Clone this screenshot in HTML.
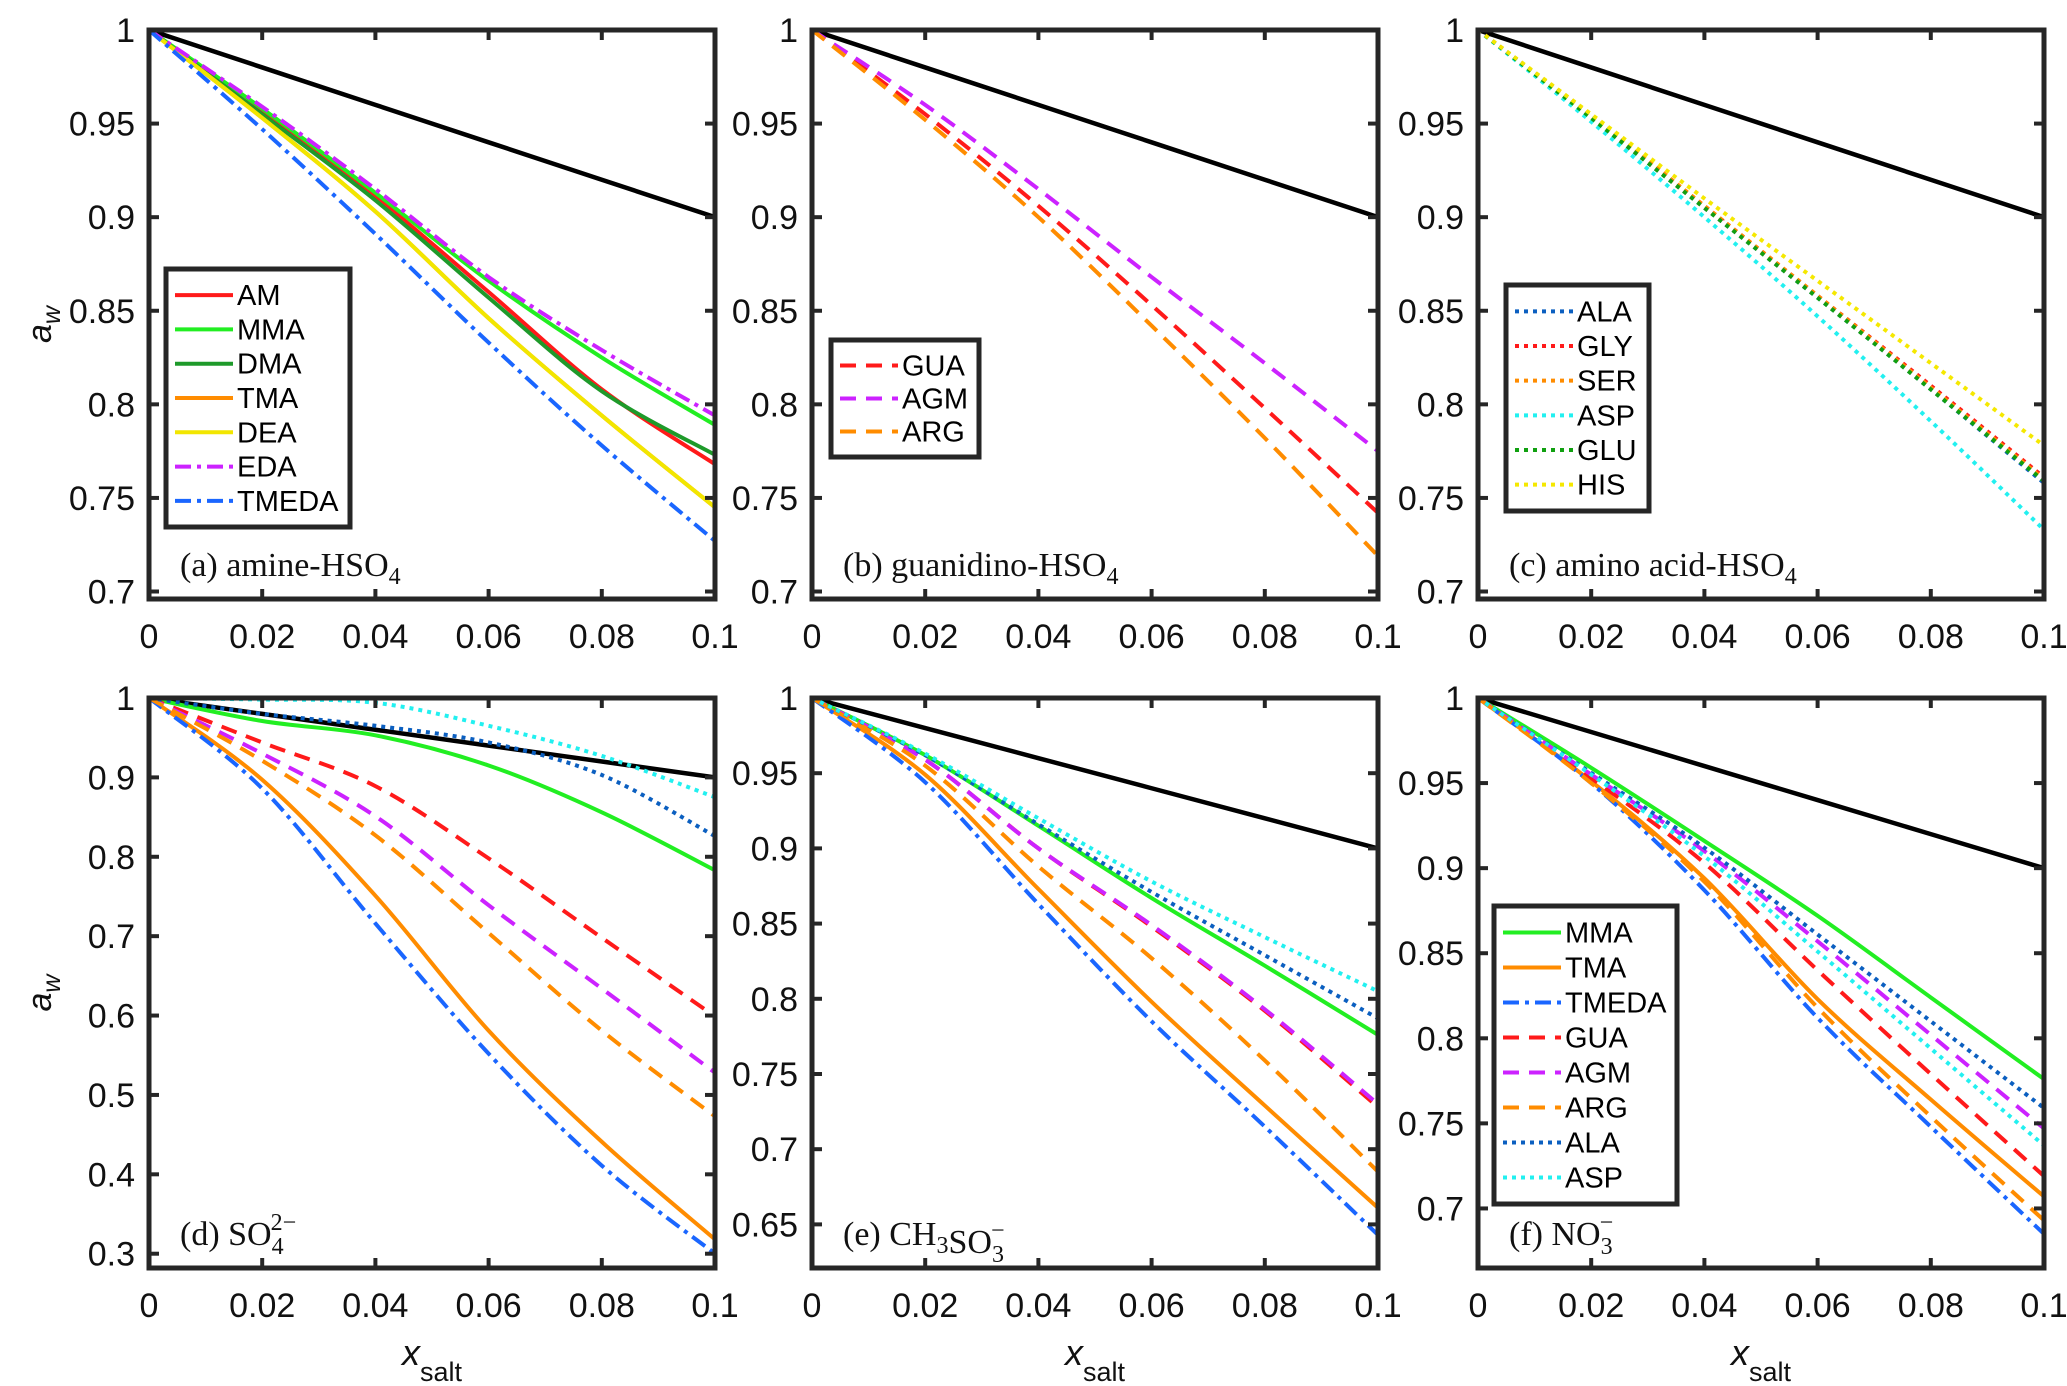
<!DOCTYPE html>
<html><head><meta charset="utf-8"><style>
html,body{margin:0;padding:0;background:#fff;}
svg{display:block;}
text{font-family:"Liberation Sans",sans-serif;}
.ser{font-family:"Liberation Serif",serif;}
</style></head><body>
<svg id="fig" width="2067" height="1386" viewBox="0 0 2067 1386" xmlns="http://www.w3.org/2000/svg"></svg>
<script>
// ---- data ----
const xs = [0, 0.02, 0.04, 0.06, 0.08, 0.1];
const xTicks = [0, 0.02, 0.04, 0.06, 0.08, 0.1];
const xTickLabels = ["0","0.02","0.04","0.06","0.08","0.1"];
const yTicksABC = [0.7,0.75,0.8,0.85,0.9,0.95,1];
const yTickLabelsABC = ["0.7","0.75","0.8","0.85","0.9","0.95","1"];
const yTicksD = [0.3,0.4,0.5,0.6,0.7,0.8,0.9,1];
const yTickLabelsD = ["0.3","0.4","0.5","0.6","0.7","0.8","0.9","1"];
const yTicksE = [0.65,0.7,0.75,0.8,0.85,0.9,0.95,1];
const yTickLabelsE = ["0.65","0.7","0.75","0.8","0.85","0.9","0.95","1"];
const yTicksF = [0.7,0.75,0.8,0.85,0.9,0.95,1];
const yTickLabelsF = ["0.7","0.75","0.8","0.85","0.9","0.95","1"];
const ideal = [1, 0.98, 0.96, 0.94, 0.92, 0.9];

// (a) amine-HSO4
const aAM    = [1, 0.956, 0.911, 0.860, 0.808, 0.768];
const aMMA   = [1, 0.958, 0.913, 0.866, 0.825, 0.789];
const aDMA   = [1, 0.955, 0.909, 0.857, 0.807, 0.773];
const aTMA   = [1, 0.953, 0.903, 0.846, 0.794, 0.745];
const aDEA   = [1, 0.953, 0.903, 0.846, 0.794, 0.745];
const aEDA   = [1, 0.959, 0.915, 0.868, 0.829, 0.794];
const aTMEDA = [1, 0.947, 0.891, 0.833, 0.778, 0.727];
// (b) guanidino-HSO4
const bGUA = [1, 0.955, 0.906, 0.853, 0.798, 0.742];
const bAGM = [1, 0.960, 0.915, 0.868, 0.822, 0.775];
const bARG = [1, 0.952, 0.900, 0.842, 0.782, 0.719];
// (c) amino acid-HSO4
const cALA = [1, 0.953, 0.905, 0.857, 0.808, 0.758];
const cGLY = [1, 0.954, 0.906, 0.858, 0.810, 0.761];
const cSER = [1, 0.954, 0.906, 0.858, 0.809, 0.760];
const cASP = [1, 0.951, 0.900, 0.847, 0.791, 0.733];
const cGLU = [1, 0.953, 0.905, 0.857, 0.808, 0.759];
const cHIS = [1, 0.955, 0.910, 0.866, 0.822, 0.778];
// (d) SO4 2-
const dMMA   = [1, 0.971, 0.953, 0.915, 0.856, 0.783];
const dTMA   = [1, 0.897, 0.751, 0.581, 0.441, 0.318];
const dTMEDA = [1, 0.886, 0.716, 0.552, 0.411, 0.300];
const dGUA   = [1, 0.944, 0.889, 0.798, 0.698, 0.599];
const dAGM   = [1, 0.930, 0.851, 0.739, 0.634, 0.528];
const dARG   = [1, 0.921, 0.827, 0.704, 0.581, 0.473];
const dALA   = [1, 0.980, 0.965, 0.944, 0.903, 0.826];
const dASP   = [1, 0.998, 0.994, 0.965, 0.927, 0.875];
// (e) CH3SO3-
const eMMA   = [1, 0.962, 0.915, 0.867, 0.822, 0.776];
const eTMA   = [1, 0.949, 0.873, 0.798, 0.729, 0.661];
const eTMEDA = [1, 0.944, 0.863, 0.785, 0.715, 0.643];
const eGUA   = [1, 0.959, 0.900, 0.848, 0.792, 0.728];
const eAGM   = [1, 0.959, 0.900, 0.849, 0.793, 0.730];
const eARG   = [1, 0.955, 0.888, 0.827, 0.759, 0.685];
const eALA   = [1, 0.962, 0.916, 0.871, 0.829, 0.787];
const eASP   = [1, 0.963, 0.920, 0.878, 0.841, 0.805];
// (f) NO3-
const fMMA   = [1, 0.959, 0.916, 0.872, 0.824, 0.776];
const fTMA   = [1, 0.951, 0.894, 0.823, 0.764, 0.707];
const fTMEDA = [1, 0.950, 0.887, 0.812, 0.748, 0.685];
const fGUA   = [1, 0.953, 0.903, 0.840, 0.779, 0.719];
const fAGM   = [1, 0.955, 0.910, 0.857, 0.802, 0.747];
const fARG   = [1, 0.950, 0.892, 0.818, 0.754, 0.693];
const fALA   = [1, 0.956, 0.912, 0.861, 0.810, 0.759];
const fASP   = [1, 0.955, 0.907, 0.851, 0.794, 0.737];

// ---- styles ----
const C = {AM:"#ff1a1a",MMA:"#22ee22",DMA:"#1e9a2a",TMA:"#ff8c00",DEA:"#f2e600",EDA:"#cc22ff",TMEDA:"#1a66ff",
  GUA:"#ff1a1a",AGM:"#cc22ff",ARG:"#ff8c00",ALA:"#0b5fc0",GLY:"#ff1a1a",SER:"#ff8c00",ASP:"#22f0f0",GLU:"#10a010",HIS:"#f5e800"};
const DASH = {solid:"", dash:"16,10", dot:"4,5", dashdot:"16,6,4,6"};
const NS = "http://www.w3.org/2000/svg";
const svg = document.getElementById("fig");
function mk(tag, attrs, parent){ const e=document.createElementNS(NS,tag); for(const k in attrs) e.setAttribute(k,attrs[k]); (parent||svg).appendChild(e); return e; }
function smoothPath(pts){
  let d="M"+pts[0][0]+","+pts[0][1];
  for(let i=0;i<pts.length-1;i++){
    const p0=pts[i-1]||pts[i], p1=pts[i], p2=pts[i+1], p3=pts[i+2]||p2;
    const c1x=p1[0]+(p2[0]-p0[0])/6, c1y=p1[1]+(p2[1]-p0[1])/6;
    const c2x=p2[0]-(p3[0]-p1[0])/6, c2y=p2[1]-(p3[1]-p1[1])/6;
    d+=" C"+c1x+","+c1y+" "+c2x+","+c2y+" "+p2[0]+","+p2[1];
  }
  return d;
}

const panels = [
 {id:"a", x0:149,x1:715,y0:30,y1:599, ymin:0.696,ymax:1, yt:yTicksABC, ytl:yTickLabelsABC, ylabel:true,xlabel:false,
  series:[["AM",aAM,"solid"],["MMA",aMMA,"solid"],["DMA",aDMA,"solid"],["TMA",aTMA,"solid"],["DEA",aDEA,"solid"],["EDA",aEDA,"dashdot"],["TMEDA",aTMEDA,"dashdot"]],
  legend:{x:166,y:269,w:184,h:258,items:["AM","MMA","DMA","TMA","DEA","EDA","TMEDA"],styles:["solid","solid","solid","solid","solid","dashdot","dashdot"]},
  label:[["(a) amine-HSO",""],["4","sub"]]},
 {id:"b", x0:812,x1:1378,y0:30,y1:599, ymin:0.696,ymax:1, yt:yTicksABC, ytl:yTickLabelsABC, ylabel:false,xlabel:false,
  series:[["GUA",bGUA,"dash"],["AGM",bAGM,"dash"],["ARG",bARG,"dash"]],
  legend:{x:831,y:340,w:148,h:117,items:["GUA","AGM","ARG"],styles:["dash","dash","dash"]},
  label:[["(b) guanidino-HSO",""],["4","sub"]]},
 {id:"c", x0:1478,x1:2044,y0:30,y1:599, ymin:0.696,ymax:1, yt:yTicksABC, ytl:yTickLabelsABC, ylabel:false,xlabel:false,
  series:[["ALA",cALA,"dot"],["GLY",cGLY,"dot"],["SER",cSER,"dot"],["ASP",cASP,"dot"],["GLU",cGLU,"dot"],["HIS",cHIS,"dot"]],
  legend:{x:1506,y:285,w:143,h:226,items:["ALA","GLY","SER","ASP","GLU","HIS"],styles:["dot","dot","dot","dot","dot","dot"]},
  label:[["(c) amino acid-HSO",""],["4","sub"]]},
 {id:"d", x0:149,x1:715,y0:698,y1:1268, ymin:0.282,ymax:1, yt:yTicksD, ytl:yTickLabelsD, ylabel:true,xlabel:true,
  series:[["MMA",dMMA,"solid"],["TMA",dTMA,"solid"],["TMEDA",dTMEDA,"dashdot"],["GUA",dGUA,"dash"],["AGM",dAGM,"dash"],["ARG",dARG,"dash"],["ALA",dALA,"dot"],["ASP",dASP,"dot"]],
  legend:null, label:[["(d) SO",""],["4","subsup","2−"]]},
 {id:"e", x0:812,x1:1378,y0:698,y1:1268, ymin:0.621,ymax:1, yt:yTicksE, ytl:yTickLabelsE, ylabel:false,xlabel:true,
  series:[["MMA",eMMA,"solid"],["TMA",eTMA,"solid"],["TMEDA",eTMEDA,"dashdot"],["GUA",eGUA,"dash"],["AGM",eAGM,"dash"],["ARG",eARG,"dash"],["ALA",eALA,"dot"],["ASP",eASP,"dot"]],
  legend:null, label:[["(e) CH",""],["3","sub"],["SO",""],["3","subsup","−"]]},
 {id:"f", x0:1478,x1:2044,y0:698,y1:1268, ymin:0.665,ymax:1, yt:yTicksF, ytl:yTickLabelsF, ylabel:false,xlabel:true,
  series:[["MMA",fMMA,"solid"],["TMA",fTMA,"solid"],["TMEDA",fTMEDA,"dashdot"],["GUA",fGUA,"dash"],["AGM",fAGM,"dash"],["ARG",fARG,"dash"],["ALA",fALA,"dot"],["ASP",fASP,"dot"]],
  legend:{x:1494,y:906,w:183,h:298,items:["MMA","TMA","TMEDA","GUA","AGM","ARG","ALA","ASP"],styles:["solid","solid","dashdot","dash","dash","dash","dot","dot"]},
  label:[["(f) NO",""],["3","subsup","−"]]}
];

panels.forEach(p=>{
  const g = mk("g",{});
  
  
  const sx = v => p.x0 + (v - 0)/(0.1 - 0)*(p.x1 - p.x0);
  const sy = v => p.y1 - (v - p.ymin)/(p.ymax - p.ymin)*(p.y1 - p.y0);
  const clipId = "clip"+p.id;
  const cp = mk("clipPath",{id:clipId},g);
  mk("rect",{x:p.x0,y:p.y0,width:p.x1-p.x0,height:p.y1-p.y0},cp);
  const plot = mk("g",{"clip-path":"url(#"+clipId+")"},g);
  const il = mk("polyline",{points:xs.map((x,i)=>sx(x)+","+sy(ideal[i])).join(" "),fill:"none",stroke:"#000","stroke-width":4.5},plot);
  
  
  p.series.forEach(s=>{
    const [name,vals,st]=s;
    const pts = xs.map((x,i)=>[sx(x),sy(vals[i])]);
    const pl = mk("path",{d:smoothPath(pts),fill:"none",stroke:C[name],"stroke-width":4,"stroke-dasharray":DASH[st],"stroke-linejoin":"round"},plot);
    
    
  });
  xTicks.forEach((t,i)=>{
    const x=sx(t);
    mk("line",{x1:x,x2:x,y1:p.y1,y2:p.y1-10,stroke:"#262626","stroke-width":4},g);
    mk("line",{x1:x,x2:x,y1:p.y0,y2:p.y0+10,stroke:"#262626","stroke-width":4},g);
    const tx = mk("text",{x:x,y:p.y1+49,"font-size":34,"text-anchor":"middle",fill:"#111"},g);
    tx.textContent = xTickLabels[i];
    
    
  });
  p.yt.forEach((t,i)=>{
    const y=sy(t);
    mk("line",{x1:p.x0,x2:p.x0+10,y1:y,y2:y,stroke:"#262626","stroke-width":4},g);
    mk("line",{x1:p.x1,x2:p.x1-10,y1:y,y2:y,stroke:"#262626","stroke-width":4},g);
    const ty = mk("text",{x:p.x0-14,y:y+12,"font-size":34,"text-anchor":"end",fill:"#111"},g);
    ty.textContent = p.ytl[i];
    
    
  });
  const fr = mk("rect",{x:p.x0,y:p.y0,width:p.x1-p.x0,height:p.y1-p.y0,fill:"none",stroke:"#262626","stroke-width":5},g);
  
  
  const lt = mk("text",{x:p.x0+31,y:p.y1-23,"font-size":34,class:"ser",fill:"#111"},g);
  
  
  p.label.forEach(part=>{
    if(part[1]===""){ const ts=mk("tspan",{},lt); ts.textContent=part[0]; }
    else if(part[1]==="sub"){ const ts=mk("tspan",{dy:8,"font-size":24},lt); ts.textContent=part[0]; const r=mk("tspan",{dy:-8},lt); r.textContent=""; }
    else {
      const ts=mk("tspan",{dy:9,"font-size":24},lt); ts.textContent=part[0];
      const su=mk("tspan",{dx:-13,dy:-24,"font-size":24},lt); su.textContent=part[2];
      const r=mk("tspan",{dy:15},lt); r.textContent="";
    }
  });
  if(p.legend){
    const L=p.legend;
    const lg=mk("g",{},g);
    
    
    mk("rect",{x:L.x,y:L.y,width:L.w,height:L.h,fill:"#fff",stroke:"#262626","stroke-width":5},lg);
    const step=(L.h-18)/L.items.length;
    L.items.forEach((nm,i)=>{
      const cy=L.y+9+step*(i+0.5);
      mk("line",{x1:L.x+9,x2:L.x+67,y1:cy,y2:cy,stroke:C[nm],"stroke-width":4,"stroke-dasharray":DASH[L.styles[i]]},lg);
      const t=mk("text",{x:L.x+71,y:cy+10,"font-size":29,fill:"#000"},lg);
      t.textContent=nm;
      
      
    });
  }
  if(p.ylabel){
    const cy=(p.y0+p.y1)/2;
    const yl=mk("text",{x:0,y:0,"font-size":34,transform:"translate("+(p.x0-98)+","+(cy+10)+") rotate(-90)","text-anchor":"middle",fill:"#111"},g);
    
    
    const a=mk("tspan",{"font-style":"italic"},yl); a.textContent="a";
    const w=mk("tspan",{"font-style":"italic","font-size":25,dy:9},yl); w.textContent="w";
  }
  if(p.xlabel){
    const cx=(p.x0+p.x1)/2;
    const xl=mk("text",{x:cx-30,y:1365,"font-size":36,fill:"#111"},g);
    
    
    const a=mk("tspan",{"font-style":"italic"},xl); a.textContent="x";
    const s=mk("tspan",{"font-size":27,dy:16},xl); s.textContent="salt";
  }
});
</script>
</body></html>
